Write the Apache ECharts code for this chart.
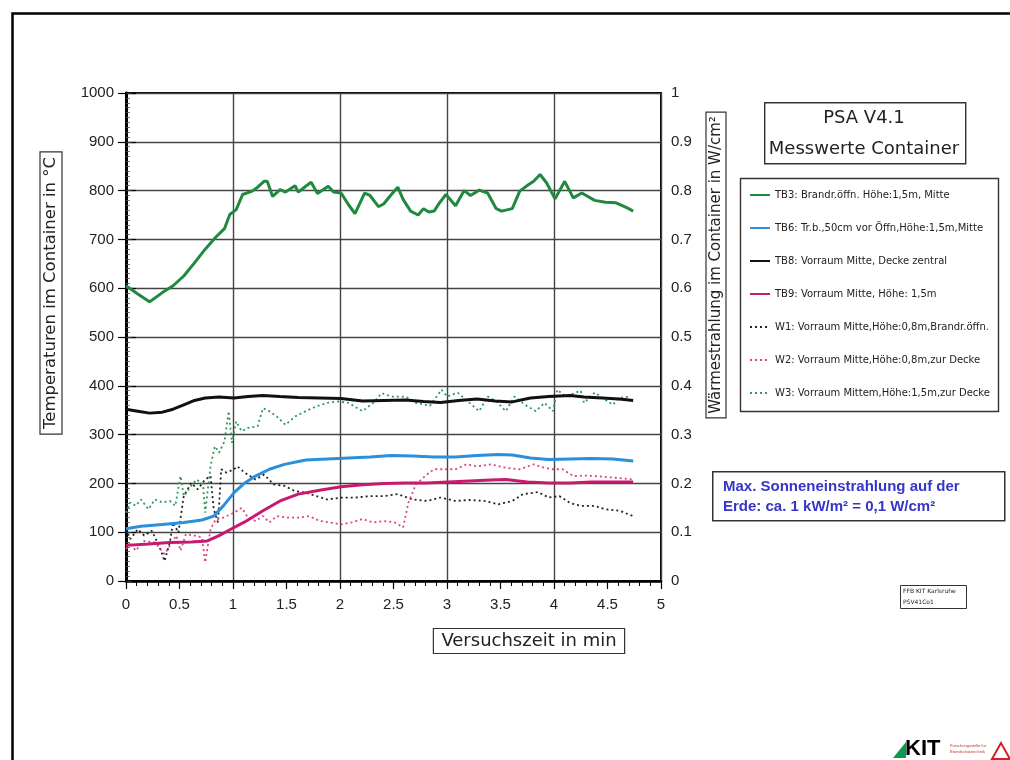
<!DOCTYPE html>
<html>
<head>
<meta charset="utf-8">
<script src="https://cdn.jsdelivr.net/npm/echarts@6/dist/echarts.min.js"></script>
<style>
html,body{margin:0;padding:0;background:#fff;}
#chart{width:1010px;height:760px;}
</style>
</head>
<body>
<div id="chart"></div>
<script>
// ---- Data (time in min, temperature in °C / radiation in W/cm²) ----
const xTicks = [0, 0.5, 1, 1.5, 2, 2.5, 3, 3.5, 4, 4.5, 5];
const seriesNames = [
  'TB3: Brandr.öffn. Höhe:1,5m, Mitte',
  'TB6: Tr.b.,50cm vor Öffn,Höhe:1,5m,Mitte',
  'TB8: Vorraum Mitte, Decke zentral',
  'TB9: Vorraum Mitte, Höhe: 1,5m',
  'W1: Vorraum Mitte,Höhe:0,8m,Brandr.öffn.',
  'W2: Vorraum Mitte,Höhe:0,8m,zur Decke',
  'W3: Vorraum Mittem,Höhe:1,5m,zur Decke'
];
const tb3 = [[0,605],[0.11,588],[0.22,572],[0.34,591],[0.44,605],[0.54,625],[0.64,652],[0.74,680],[0.84,705],[0.92,722],[0.97,751],[1.03,761],[1.09,792],[1.18,799],[1.23,807],[1.29,819],[1.32,819],[1.37,788],[1.44,802],[1.49,797],[1.58,810],[1.61,797],[1.68,809],[1.73,817],[1.79,794],[1.89,809],[1.94,797],[2.01,795],[2.08,771],[2.14,753],[2.23,795],[2.28,790],[2.36,767],[2.41,773],[2.48,792],[2.54,807],[2.59,782],[2.66,758],[2.73,750],[2.78,763],[2.83,756],[2.88,758],[2.93,775],[2.99,792],[3.08,769],[3.16,800],[3.22,790],[3.30,801],[3.38,795],[3.46,763],[3.51,758],[3.61,763],[3.68,799],[3.76,812],[3.81,819],[3.87,833],[3.93,816],[4.01,783],[4.10,819],[4.18,785],[4.26,795],[4.38,780],[4.48,776],[4.58,775],[4.68,765],[4.74,758]];
const tb6 = [[0,107],[0.14,112],[0.34,116],[0.54,120],[0.71,125],[0.82,133],[0.91,154],[1.01,181],[1.11,201],[1.21,215],[1.34,229],[1.48,239],[1.68,248],[1.88,250],[2.08,252],[2.28,254],[2.48,257],[2.68,256],[2.88,254],[3.08,254],[3.28,257],[3.48,259],[3.61,258],[3.78,252],[3.95,249],[4.15,250],[4.35,251],[4.55,250],[4.74,246]];
const tb8 = [[0,352],[0.11,348],[0.22,344],[0.34,346],[0.44,352],[0.54,361],[0.64,370],[0.74,375],[0.87,377],[1.01,375],[1.14,378],[1.28,380],[1.44,378],[1.61,376],[1.81,375],[2.01,374],[2.21,369],[2.41,370],[2.61,371],[2.78,368],[2.94,366],[3.11,370],[3.28,373],[3.45,369],[3.61,367],[3.78,375],[3.95,378],[4.15,380],[4.28,377],[4.45,375],[4.61,373],[4.74,370]];
const tb9 = [[0,73],[0.21,76],[0.41,79],[0.61,80],[0.76,82],[0.87,93],[0.97,105],[1.11,121],[1.28,144],[1.44,164],[1.61,178],[1.81,186],[2.01,193],[2.21,197],[2.41,200],[2.61,201],[2.81,201],[3.01,203],[3.21,205],[3.41,207],[3.55,208],[3.75,203],[3.95,201],[4.15,201],[4.35,203],[4.55,203],[4.74,203]];
const w1 = [[0,0.106],[0.04,0.086],[0.11,0.106],[0.17,0.093],[0.24,0.103],[0.31,0.072],[0.36,0.041],[0.41,0.079],[0.44,0.120],[0.49,0.099],[0.54,0.174],[0.61,0.201],[0.67,0.188],[0.74,0.208],[0.79,0.215],[0.82,0.147],[0.86,0.120],[0.89,0.229],[0.94,0.222],[1.01,0.229],[1.04,0.235],[1.11,0.222],[1.21,0.208],[1.29,0.218],[1.38,0.198],[1.48,0.195],[1.58,0.184],[1.68,0.181],[1.78,0.174],[1.88,0.167],[2.01,0.171],[2.14,0.171],[2.28,0.174],[2.41,0.174],[2.54,0.178],[2.68,0.167],[2.81,0.164],[2.94,0.171],[3.08,0.164],[3.21,0.166],[3.35,0.164],[3.48,0.157],[3.61,0.164],[3.71,0.178],[3.85,0.182],[3.95,0.171],[4.05,0.174],[4.15,0.160],[4.25,0.154],[4.38,0.154],[4.48,0.147],[4.61,0.144],[4.74,0.133]];
const w2 = [[0,0.065],[0.04,0.079],[0.09,0.062],[0.17,0.082],[0.27,0.079],[0.36,0.055],[0.41,0.072],[0.47,0.093],[0.51,0.062],[0.56,0.096],[0.64,0.093],[0.71,0.089],[0.74,0.038],[0.79,0.106],[0.84,0.127],[0.91,0.130],[1.01,0.140],[1.08,0.150],[1.14,0.130],[1.21,0.123],[1.28,0.133],[1.34,0.120],[1.41,0.133],[1.51,0.130],[1.61,0.130],[1.71,0.133],[1.81,0.123],[1.91,0.120],[2.01,0.116],[2.11,0.120],[2.21,0.127],[2.31,0.120],[2.41,0.123],[2.51,0.120],[2.59,0.110],[2.64,0.161],[2.71,0.198],[2.81,0.218],[2.88,0.229],[2.98,0.229],[3.08,0.229],[3.18,0.239],[3.28,0.235],[3.41,0.239],[3.55,0.232],[3.68,0.229],[3.81,0.239],[3.91,0.232],[3.99,0.229],[4.08,0.229],[4.18,0.215],[4.28,0.216],[4.38,0.215],[4.55,0.212],[4.74,0.208]];
const w3 = [[0,0.140],[0.04,0.161],[0.09,0.154],[0.14,0.167],[0.21,0.147],[0.27,0.167],[0.34,0.161],[0.41,0.164],[0.46,0.154],[0.51,0.215],[0.54,0.174],[0.61,0.195],[0.66,0.208],[0.72,0.198],[0.74,0.140],[0.79,0.235],[0.83,0.276],[0.87,0.263],[0.92,0.286],[0.96,0.348],[0.99,0.283],[1.03,0.327],[1.08,0.307],[1.14,0.314],[1.23,0.317],[1.28,0.354],[1.34,0.348],[1.41,0.337],[1.49,0.320],[1.58,0.337],[1.68,0.348],[1.78,0.358],[1.88,0.365],[1.98,0.368],[2.08,0.365],[2.21,0.348],[2.31,0.365],[2.39,0.385],[2.48,0.378],[2.61,0.378],[2.71,0.365],[2.84,0.359],[2.95,0.392],[3.00,0.378],[3.10,0.386],[3.18,0.371],[3.30,0.348],[3.38,0.378],[3.46,0.368],[3.55,0.348],[3.63,0.378],[3.73,0.361],[3.83,0.348],[3.91,0.365],[3.99,0.348],[4.03,0.392],[4.11,0.378],[4.25,0.390],[4.28,0.365],[4.38,0.386],[4.55,0.361],[4.61,0.375],[4.71,0.378]];

const colors = ['#1f8a3e', '#2a90dc', '#111111', '#c8196e', '#222222', '#d9458a', '#2f9a5e'];

const chart = echarts.init(document.getElementById('chart'), null, {renderer: 'canvas'});
const labelFont = {fontFamily: 'Liberation Sans, Arial, sans-serif', fontSize: 15, color: '#222'};
const plotFont = 'DejaVu Sans, sans-serif';

function solid(name, data, color) {
  return {name, type: 'line', data, yAxisIndex: 0, xAxisIndex: 0, symbol: 'none', smooth: false,
    lineStyle: {color, width: 3}, itemStyle: {color}, z: 5};
}
function dotted(name, data, color) {
  return {name, type: 'line', data, yAxisIndex: 1, xAxisIndex: 0, symbol: 'none',
    lineStyle: {color, width: 1.8, type: [2, 3]}, itemStyle: {color}, z: 4};
}

const option = {
  animation: false,
  backgroundColor: '#fff',
  grid: {left: 126, right: 349, top: 93, bottom: 179, show: true, borderColor: '#000', borderWidth: 2},
  legend: {
    orient: 'vertical', left: 744, top: 185, itemWidth: 20, itemHeight: 10, itemGap: 23,
    itemStyle: {opacity: 0},
    textStyle: {fontFamily: plotFont, fontSize: 10, color: '#222'},
    data: seriesNames
  },
  xAxis: [
    {type: 'value', min: 0, max: 5, interval: 0.5, position: 'bottom',
     axisLine: {lineStyle: {color: '#000', width: 2.5}},
     axisTick: {show: true, length: 8, lineStyle: {color: '#000', width: 1.2}},
     minorTick: {show: true, splitNumber: 5, length: 5, lineStyle: {color: '#000', width: 1}},
     axisLabel: Object.assign({margin: 16, formatter: v => (xTicks.indexOf(v) >= 0 ? String(v) : '')}, labelFont),
     splitLine: {show: false}},
    {type: 'value', min: 0, max: 5, interval: 1, position: 'bottom', show: true,
     axisLine: {show: false}, axisTick: {show: false}, axisLabel: {show: false},
     splitLine: {show: true, lineStyle: {color: '#444', width: 1.4}}}
  ],
  yAxis: [
    {type: 'value', min: 0, max: 1000, interval: 100, position: 'left',
     axisLine: {show: true, lineStyle: {color: '#000', width: 3}},
     axisTick: {show: true, length: 8, lineStyle: {color: '#000', width: 1.2}},
     axisLabel: Object.assign({margin: 12, formatter: v => String(v)}, labelFont),
     splitLine: {show: true, lineStyle: {color: '#444', width: 1.4}}},
    {type: 'value', min: 0, max: 1, interval: 0.1, position: 'right',
     axisLine: {show: true, lineStyle: {color: '#000', width: 2.5}},
     axisTick: {show: true, length: 10, lineStyle: {color: '#000', width: 1.2}},
     axisLabel: Object.assign({margin: 10, formatter: v => String(Math.round(v * 10) / 10)}, labelFont),
     splitLine: {show: false}},
    {type: 'value', min: 0, max: 1000, interval: 100, position: 'left',
     axisLine: {show: false}, axisLabel: {show: false},
     axisTick: {show: true, inside: true, length: 6, lineStyle: {color: '#333', width: 1}},
     minorTick: {show: true, splitNumber: 10, length: 4, lineStyle: {color: '#555', width: 0.8}},
     splitLine: {show: false}}
  ],
  series: [
    solid(seriesNames[0], tb3, colors[0]),
    solid(seriesNames[1], tb6, colors[1]),
    solid(seriesNames[2], tb8, colors[2]),
    solid(seriesNames[3], tb9, colors[3]),
    dotted(seriesNames[4], w1, colors[4]),
    dotted(seriesNames[5], w2, colors[5]),
    dotted(seriesNames[6], w3, colors[6])
  ],
  graphic: [
    // outer slide frame
    {type: 'rect', left: 10, top: 11, shape: {width: 1010, height: 760}, style: {fill: 'none', stroke: '#000', lineWidth: 2.5}, silent: true},
    // left axis title
    {type: 'text', x: 51, y: 293, rotation: Math.PI / 2,
     style: {text: 'Temperaturen im Container in °C', font: '16.5px ' + plotFont, fill: '#222',
       align: 'center', verticalAlign: 'middle', borderColor: '#333', borderWidth: 1.2, padding: [3, 5, 2, 5]}},
    // right axis title
    {type: 'text', x: 716, y: 265, rotation: Math.PI / 2,
     style: {text: 'Wärmestrahlung im Container in W/cm²', font: '15px ' + plotFont, fill: '#222',
       align: 'center', verticalAlign: 'middle', borderColor: '#333', borderWidth: 1.2, padding: [3, 4, 2, 4]}},
    // x axis title
    {type: 'text', x: 529, y: 641,
     style: {text: 'Versuchszeit in min', font: '18px ' + plotFont, fill: '#222',
       align: 'center', verticalAlign: 'middle', borderColor: '#333', borderWidth: 1.2, padding: [4, 8, 3, 8]}},
    // title box
    {type: 'rect', left: 764, top: 102, shape: {width: 201, height: 61}, style: {fill: '#fff', stroke: '#333', lineWidth: 1.4}},
    {type: 'text', x: 864, y: 118, style: {text: 'PSA V4.1', font: '18px ' + plotFont, fill: '#222', align: 'center', verticalAlign: 'middle'}},
    {type: 'text', x: 864, y: 149, style: {text: 'Messwerte Container', font: '18px ' + plotFont, fill: '#222', align: 'center', verticalAlign: 'middle'}},
    // legend box
    {type: 'rect', left: 738, top: 176, z: -1, shape: {width: 258, height: 233}, style: {fill: 'none', stroke: '#333', lineWidth: 1.4}},
    // blue info box
    {type: 'rect', left: 712, top: 471, shape: {width: 292, height: 49}, style: {fill: '#fff', stroke: '#333', lineWidth: 1.5}},
    {type: 'text', x: 723, y: 487, style: {text: 'Max. Sonneneinstrahlung auf der', font: 'bold 15px Liberation Sans, Arial, sans-serif', fill: '#3535c8', verticalAlign: 'middle'}},
    {type: 'text', x: 723, y: 507, style: {text: 'Erde: ca. 1 kW/m² = 0,1 W/cm²', font: 'bold 15px Liberation Sans, Arial, sans-serif', fill: '#3535c8', verticalAlign: 'middle'}},
    // small stamp box
    {type: 'rect', left: 900, top: 585, shape: {width: 66, height: 23}, style: {fill: '#fff', stroke: '#333', lineWidth: 1}},
    {type: 'text', x: 903, y: 591, style: {text: 'FFB KIT Karlsruhe', font: '6px ' + plotFont, fill: '#222', verticalAlign: 'middle'}},
    {type: 'text', x: 903, y: 602, style: {text: 'PSV41Co1', font: '6px ' + plotFont, fill: '#222', verticalAlign: 'middle'}},
    // KIT logo (approximation)
    {type: 'polygon', shape: {points: [[893, 758], [906, 742], [906, 758]]}, style: {fill: '#0a9a52'}},
    {type: 'text', x: 905, y: 749, style: {text: 'KIT', font: 'bold 22px Liberation Sans, Arial, sans-serif', fill: '#000', verticalAlign: 'middle'}},
    {type: 'text', x: 950, y: 746, style: {text: 'Forschungsstelle für', font: '4px Liberation Sans, sans-serif', fill: '#c0392b', verticalAlign: 'middle'}},
    {type: 'text', x: 950, y: 752, style: {text: 'Brandschutztechnik', font: '4px Liberation Sans, sans-serif', fill: '#c0392b', verticalAlign: 'middle'}},
    {type: 'polygon', shape: {points: [[992, 759], [1001, 743], [1010, 759]]}, style: {fill: 'none', stroke: '#d0202a', lineWidth: 2}}
  ]
};
chart.setOption(option);
</script>
</body>
</html>
